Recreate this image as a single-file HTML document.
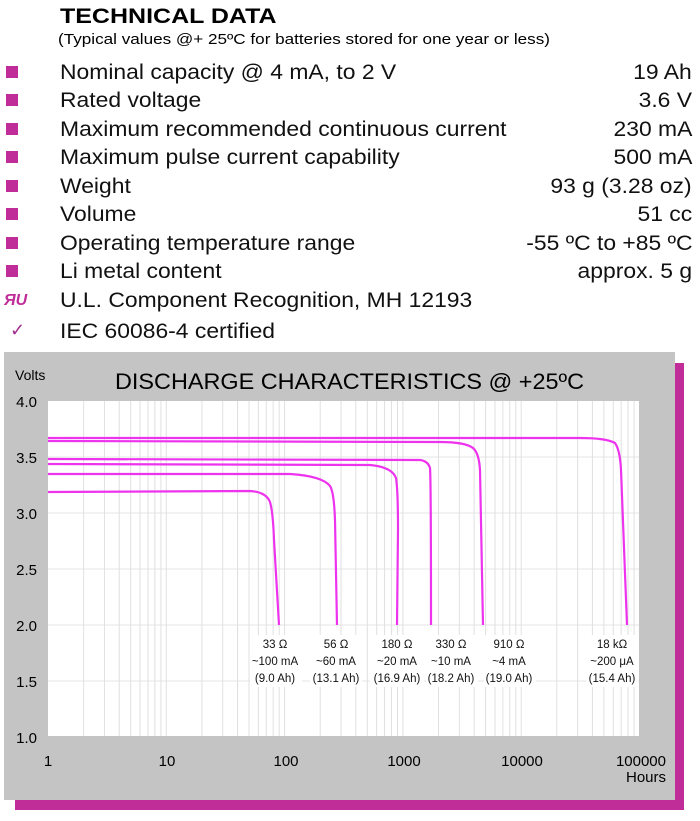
<!DOCTYPE html>
<html><head><meta charset="utf-8"><style>
body{margin:0;width:700px;height:821px;background:#fff;font-family:"Liberation Sans",sans-serif;position:relative;overflow:hidden}
.t{position:absolute;left:60px;font-size:21px;font-weight:bold;top:5px;transform-origin:0 0;transform:scaleX(1.19);white-space:nowrap}
.s{position:absolute;left:58px;top:32px;font-size:14.5px;transform-origin:0 0;transform:scaleX(1.18);white-space:nowrap}
.r{position:absolute;left:0;width:692px;height:28px;font-size:21px;color:#111}
.r .b{position:absolute;left:6px;top:7px;width:12px;height:12px;background:#c02c98}
.r .l{position:absolute;left:60px;top:2px;transform-origin:0 0;transform:scaleX(1.09);white-space:nowrap}
.r .v{position:absolute;right:0;top:2px;transform-origin:100% 0;transform:scaleX(1.09);white-space:nowrap}
</style></head><body>
<div class="t">TECHNICAL DATA</div>
<div class="s">(Typical values @+ 25ºC for batteries stored for one year or less)</div>
<div class="r" style="top:59px"><div class="b"></div><div class="l">Nominal capacity @ 4 mA, to 2 V</div><div class="v">19 Ah</div></div>
<div class="r" style="top:87px"><div class="b"></div><div class="l">Rated voltage</div><div class="v">3.6 V</div></div>
<div class="r" style="top:116px"><div class="b"></div><div class="l">Maximum recommended continuous current</div><div class="v">230 mA</div></div>
<div class="r" style="top:144px"><div class="b"></div><div class="l">Maximum pulse current capability</div><div class="v">500 mA</div></div>
<div class="r" style="top:173px"><div class="b"></div><div class="l">Weight</div><div class="v">93 g (3.28 oz)</div></div>
<div class="r" style="top:201px"><div class="b"></div><div class="l">Volume</div><div class="v">51 cc</div></div>
<div class="r" style="top:230px"><div class="b"></div><div class="l">Operating temperature range</div><div class="v">-55 ºC to +85 ºC</div></div>
<div class="r" style="top:258px"><div class="b"></div><div class="l">Li metal content</div><div class="v">approx. 5 g</div></div>
<div class="r" style="top:287px"><div style="position:absolute;left:4px;top:5px;font-size:16px;font-weight:bold;color:#c02c98;font-style:italic">ЯU</div><div class="l">U.L. Component Recognition, MH 12193</div></div>
<div class="r" style="top:318px"><div style="position:absolute;left:10px;top:2px;font-size:18px;color:#a03090">✓</div><div class="l">IEC 60086-4 certified</div></div>

<svg style="position:absolute;left:0;top:0" width="700" height="821" font-family="Liberation Sans, sans-serif">
<rect x="15" y="363" width="669" height="447" fill="#c02c98"/>
<rect x="4" y="352" width="671" height="448" fill="#c4c4c4"/>
<rect x="48" y="401" width="591" height="335" fill="#fff"/>
<g stroke="#e4e4e4" stroke-width="1">
<line x1="48" y1="457" x2="639" y2="457"/><line x1="48" y1="513" x2="639" y2="513"/><line x1="48" y1="569" x2="639" y2="569"/><line x1="48" y1="625" x2="639" y2="625"/><line x1="48" y1="681" x2="639" y2="681"/>
</g>
<g stroke="#e0e0e0" stroke-width="1" id="v"></g>
<g fill="none" stroke="#ee33ee" stroke-width="2.2">
<path d="M48 492 L250 491 Q266 492 270 502 Q273 512 274 540 L279 625"/>
<path d="M48 474 L290 474 Q322 476 330 486 Q334 492 335 520 L337 625"/>
<path d="M48 464 L370 465 Q392 467 396 478 Q398 490 398 530 L397 625"/>
<path d="M48 459 L420 460 Q428 461 430 468 Q431 480 431 625"/>
<path d="M48 441 L440 442 Q465 442 473 448 Q479 453 480 470 L483 625"/>
<path d="M48 438 L580 438 Q606 438 615 443 Q620 450 621 470 L627 625"/>
</g>
<g font-size="11.5" text-anchor="middle" fill="#111">
<rect x="250" y="635" width="52" height="52" fill="#fff"/>
<rect x="310" y="635" width="52" height="52" fill="#fff"/>
<rect x="370" y="635" width="54" height="52" fill="#fff"/>
<rect x="426" y="635" width="52" height="52" fill="#fff"/>
<rect x="484" y="635" width="52" height="52" fill="#fff"/>
<rect x="586" y="635" width="52" height="52" fill="#fff"/>
<text x="275" y="648">33 Ω</text><text x="275" y="665">~100 mA</text><text x="275" y="682">(9.0 Ah)</text>
<text x="336" y="648">56 Ω</text><text x="336" y="665">~60 mA</text><text x="336" y="682">(13.1 Ah)</text>
<text x="397" y="648">180 Ω</text><text x="397" y="665">~20 mA</text><text x="397" y="682">(16.9 Ah)</text>
<text x="451" y="648">330 Ω</text><text x="451" y="665">~10 mA</text><text x="451" y="682">(18.2 Ah)</text>
<text x="509" y="648">910 Ω</text><text x="509" y="665">~4 mA</text><text x="509" y="682">(19.0 Ah)</text>
<text x="612" y="648">18 kΩ</text><text x="612" y="665">~200 μA</text><text x="612" y="682">(15.4 Ah)</text>
</g>
<text x="15" y="380" font-size="14">Volts</text>
<text x="115" y="389" font-size="22" textLength="469" lengthAdjust="spacingAndGlyphs">DISCHARGE CHARACTERISTICS @ +25ºC</text>
<g font-size="15" text-anchor="end">
<text x="37" y="407">4.0</text><text x="37" y="463">3.5</text><text x="37" y="519">3.0</text><text x="37" y="575">2.5</text><text x="37" y="631">2.0</text><text x="37" y="687">1.5</text><text x="37" y="743">1.0</text>
</g>
<g font-size="15" text-anchor="middle">
<text x="48" y="766">1</text><text x="167" y="766">10</text><text x="286" y="766">100</text><text x="404" y="766">1000</text><text x="522" y="766">10000</text>
<text x="666" y="766" text-anchor="end">100000</text><text x="666" y="782" text-anchor="end">Hours</text>
</g>
</svg>
<script>
var g=document.getElementById('v'),s='';
for(var d=0;d<5;d++)for(var k=2;k<=10;k++){var x=48+118.3*(d+Math.log10(k));if(x<639)s+='<line x1="'+x+'" y1="401" x2="'+x+'" y2="736"/>';}
g.innerHTML=s;
</script>
</body></html>
